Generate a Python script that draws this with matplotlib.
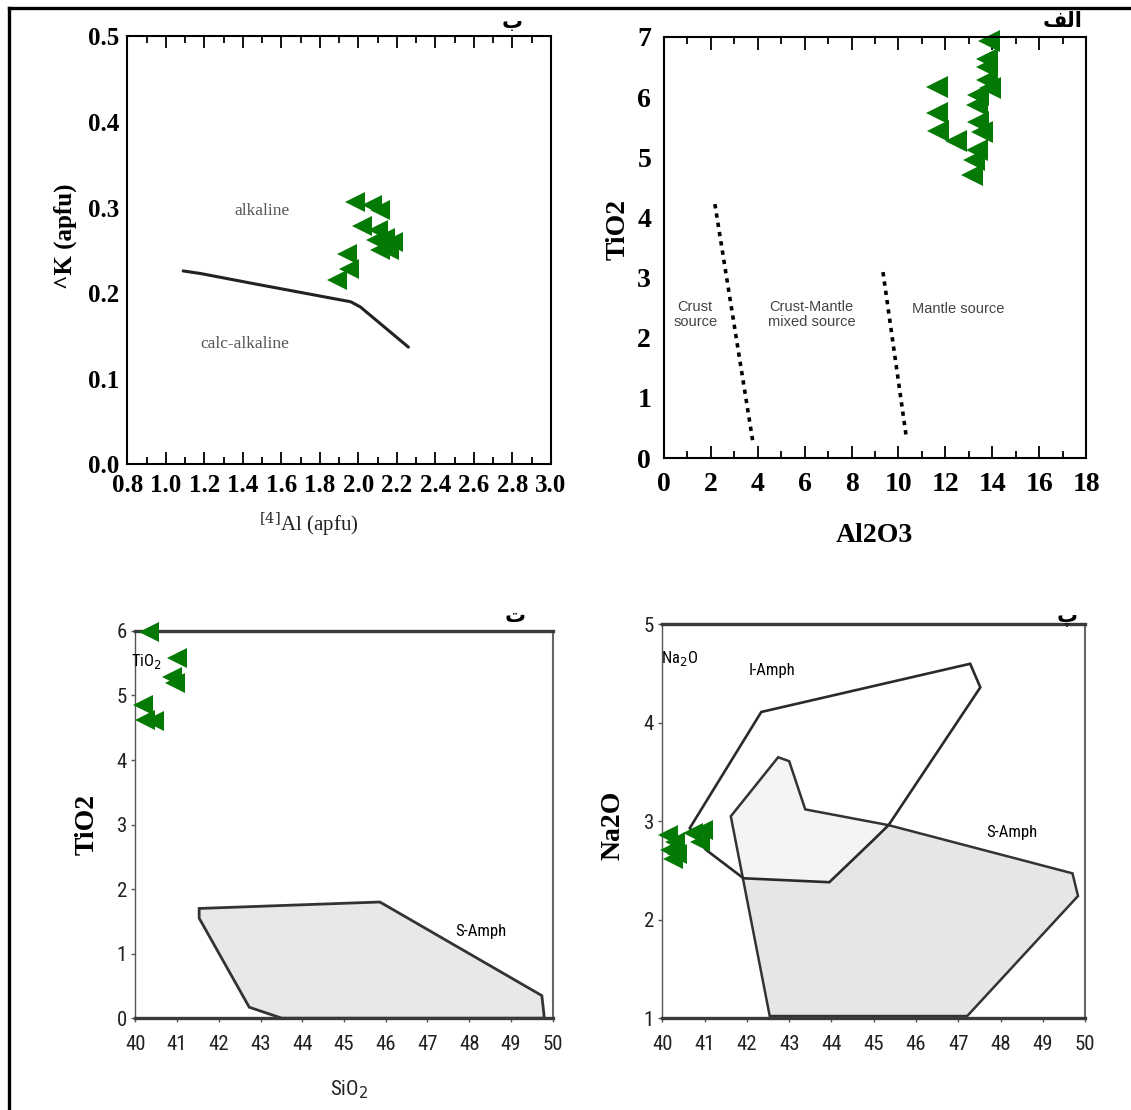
#Importing the necessary libraries
import numpy as np
import matplotlib
matplotlib.use("Agg")
import matplotlib.pyplot as plt
from matplotlib.patches import Polygon
from matplotlib.lines import Line2D

W, H = 1131, 1110
GREEN = "#047a04"
SERIF = "Liberation Serif"
NARROW = ["Roboto Condensed", "Liberation Sans", "DejaVu Sans"]

# ---- panel ب : [4]Al vs AK (apfu)
al4_apfu = [1.98, 2.07, 2.11, 2.02, 2.10, 2.09, 2.14, 2.18, 2.11, 2.16, 1.94, 1.95, 1.89]
ak_apfu = [0.306, 0.303, 0.297, 0.278, 0.274, 0.262, 0.264, 0.260, 0.250, 0.250, 0.246, 0.228, 0.216]
border_al4 = [1.09, 1.18, 1.46, 1.96, 2.01, 2.26]
border_ak = [0.226, 0.223, 0.211, 0.190, 0.184, 0.137]

# ---- panel الف : Al2O3 vs TiO2
al2o3 = [13.86, 13.78, 13.78, 13.75, 11.65, 13.40, 13.90, 13.33, 11.63, 13.40, 13.54, 11.70, 12.45, 13.33, 13.21, 13.12]
tio2_a = [6.93, 6.64, 6.50, 6.28, 6.17, 6.03, 6.15, 5.87, 5.73, 5.59, 5.42, 5.44, 5.27, 5.12, 4.95, 4.70]
crust_line_x = [2.18, 3.81]
crust_line_y = [4.22, 0.24]
mantle_line_x = [9.34, 10.34]
mantle_line_y = [3.09, 0.33]

# ---- panel ت : SiO2 vs TiO2
sio2_t = [40.33, 41.01, 40.87, 40.95, 40.19, 40.23, 40.45]
tio2_t = [5.99, 5.58, 5.29, 5.19, 4.85, 4.62, 4.60]
samph_t_x = [41.53, 45.86, 49.74, 49.80, 43.51, 42.73, 41.53]
samph_t_y = [1.70, 1.80, 0.35, 0.00, 0.00, 0.17, 1.55]

# ---- panel پ : SiO2 vs Na2O
sio2_p = [40.14, 40.30, 40.18, 40.34, 40.25, 40.73, 40.97, 40.89]
na2o_p = [2.86, 2.79, 2.71, 2.67, 2.62, 2.88, 2.91, 2.79]
iamph_x = [40.65, 42.34, 47.28, 47.52, 45.35, 44.97, 43.95, 41.92, 41.03]
iamph_y = [2.93, 4.11, 4.60, 4.36, 2.96, 2.80, 2.38, 2.42, 2.71]
samph_p_x = [41.62, 42.74, 43.00, 43.38, 45.35, 49.70, 49.83, 47.21, 42.54]
samph_p_y = [3.05, 3.65, 3.61, 3.12, 2.96, 2.47, 2.24, 1.02, 1.02]


def box(l, t, r, b):
    # pixel box -> figure fraction rect
    return [l / W, 1 - b / H, (r - l) / W, (b - t) / H]


def ftext(x, y, s, **kw):
    fig.text(x / W, 1 - y / H, s, ha="center", va="center", **kw)


fig = plt.figure(figsize=(W / 100, H / 100), dpi=100)

# ========== ب ==========
ax1 = fig.add_axes(box(127.3, 36.4, 550.9, 464.4))
ax1.plot(border_al4, border_ak, color="#222222", lw=2.2, solid_capstyle="round")
ax1.plot(al4_apfu, ak_apfu, "<", color=GREEN, ms=15, mew=0)
ax1.text(1.50, 0.296, "alkaline", fontfamily=SERIF, fontsize=12.5, color="#555555",
         ha="center", va="center")
ax1.text(1.41, 0.141, "calc-alkaline", fontfamily=SERIF, fontsize=12.5, color="#555555",
         ha="center", va="center")
ax1.set_xlim(0.8, 3.0)
ax1.set_ylim(0.0, 0.5)
ax1.set_xticks(np.arange(0.8, 3.01, 0.2))
ax1.set_xticks(np.arange(0.9, 3.0, 0.2), minor=True)
ax1.set_xticklabels(["%.1f" % v for v in np.arange(0.8, 3.01, 0.2)])
ax1.set_yticks(np.arange(0, 0.51, 0.1))
ax1.set_yticklabels(["%.1f" % v for v in np.arange(0, 0.51, 0.1)])
ax1.tick_params(axis="x", which="both", direction="in", top=True, width=1.3, pad=7)
ax1.tick_params(axis="x", which="major", length=8.5)
ax1.tick_params(axis="x", which="minor", length=5)
ax1.tick_params(axis="y", length=0, pad=6)
for lab in ax1.get_xticklabels() + ax1.get_yticklabels():
    lab.set_fontfamily(SERIF)
    lab.set_fontweight("bold")
    lab.set_fontsize(18)
for sp in ax1.spines.values():
    sp.set_linewidth(1.5)
ftext(65.5, 236, "^K (apfu)", rotation=90, fontfamily=SERIF, fontweight="bold", fontsize=18)
ftext(309, 525, "$^{[4]}$Al (apfu)", fontfamily=SERIF, fontsize=15, color="#222222",
      math_fontfamily="dejavuserif")
ftext(512, 22, "ب", fontfamily="DejaVu Sans", fontweight="bold", fontsize=15, zorder=10)

# ========== الف ==========
ax2 = fig.add_axes(box(663.7, 36.9, 1086.3, 458.0))
ax2.plot(crust_line_x, crust_line_y, color="black", lw=2.6, ls=(0, (1.2, 1.4)))
ax2.plot(mantle_line_x, mantle_line_y, color="black", lw=2.6, ls=(0, (1.2, 1.4)))
ax2.plot(al2o3, tio2_a, "<", color=GREEN, ms=16, mew=0, clip_on=False)
ax2.text(1.34, 2.38, "Crust\nsource", fontfamily="Liberation Sans", fontsize=10.5,
         color="#444444", ha="center", va="center", linespacing=1.1)
ax2.text(6.3, 2.38, "Crust-Mantle\nmixed source", fontfamily="Liberation Sans", fontsize=10.5,
         color="#444444", ha="center", va="center", linespacing=1.1)
ax2.text(12.55, 2.47, "Mantle source", fontfamily="Liberation Sans", fontsize=10.5,
         color="#444444", ha="center", va="center")
ax2.set_xlim(0, 18)
ax2.set_ylim(0, 7)
ax2.set_xticks(np.arange(0, 19, 2))
ax2.set_xticks(np.arange(1, 18, 2), minor=True)
ax2.set_yticks(np.arange(0, 8, 1))
ax2.tick_params(axis="x", which="both", direction="in", top=True, width=1.3, pad=10)
ax2.tick_params(axis="x", which="major", length=9)
ax2.tick_params(axis="x", which="minor", length=5)
ax2.tick_params(axis="y", length=0, pad=9)
for lab in ax2.get_xticklabels() + ax2.get_yticklabels():
    lab.set_fontfamily(SERIF)
    lab.set_fontweight("bold")
    lab.set_fontsize(20)
for sp in ax2.spines.values():
    sp.set_linewidth(1.5)
ftext(618, 229, "TiO2", rotation=90, fontfamily=SERIF, fontweight="bold", fontsize=20)
ftext(874, 535, "Al2O3", fontfamily=SERIF, fontweight="bold", fontsize=20)
ftext(1063, 21, "\uFED2\uFEDF\uFE8D", fontfamily="DejaVu Sans", fontweight="bold", fontsize=15)


def narrow_axes(ax):
    # the two lower diagrams: thick top/bottom frame, thin sides
    ax.spines["top"].set_linewidth(2.4)
    ax.spines["top"].set_color("#3a3a3a")
    ax.spines["bottom"].set_linewidth(2.4)
    ax.spines["bottom"].set_color("#3a3a3a")
    ax.spines["left"].set_linewidth(1.0)
    ax.spines["left"].set_color("#555555")
    ax.spines["right"].set_linewidth(1.5)
    ax.spines["right"].set_color("#666666")
    ax.tick_params(direction="out", length=3, width=1, color="#555555", pad=3)
    ax.tick_params(axis="x", pad=9)
    for lab in ax.get_xticklabels() + ax.get_yticklabels():
        lab.set_fontfamily(NARROW)
        lab.set_fontsize(15)
        lab.set_color("#222222")


# ========== ت ==========
ax3 = fig.add_axes(box(135.3, 630.9, 552.7, 1018.2))
ax3.add_patch(Polygon(np.column_stack([samph_t_x, samph_t_y]), closed=True,
                      facecolor="#e8e8e8", edgecolor="#333333", lw=2.0, clip_on=False))
ax3.plot(sio2_t, tio2_t, "<", color=GREEN, ms=15, mew=0, clip_on=False, zorder=5)
ax3.text(40.27, 5.52, "TiO$_2$", fontfamily=NARROW, fontsize=12, ha="center", va="center",
         math_fontfamily="dejavusans")
ax3.text(48.27, 1.35, "S-Amph", fontfamily=NARROW, fontsize=12, ha="center", va="center")
ax3.set_xlim(40, 50)
ax3.set_ylim(0, 6)
ax3.set_xticks(np.arange(40, 51, 1))
ax3.set_yticks(np.arange(0, 7, 1))
narrow_axes(ax3)
ftext(87, 824, "TiO2", rotation=90, fontfamily=SERIF, fontweight="bold", fontsize=20)
ftext(349, 1090, "SiO$_2$", fontfamily=NARROW, fontsize=15, color="#222222",
      math_fontfamily="dejavusans")
ftext(515, 616, "ت", fontfamily="DejaVu Sans", fontweight="bold", fontsize=15, zorder=10)

# ========== پ ==========
ax4 = fig.add_axes(box(662.3, 624.4, 1085.2, 1018.0))
# S-Amph field fill, lighter where it overlaps I-Amph, then the outlines on top
ax4.add_patch(Polygon(np.column_stack([samph_p_x, samph_p_y]), closed=True,
                      facecolor="#e6e6e6", edgecolor="none"))
ax4.add_patch(Polygon(np.column_stack([iamph_x, iamph_y]), closed=True,
                      facecolor="white", alpha=0.6, edgecolor="none"))
ax4.add_patch(Polygon(np.column_stack([samph_p_x, samph_p_y]), closed=True,
                      facecolor="none", edgecolor="#333333", lw=1.8))
ax4.add_patch(Polygon(np.column_stack([iamph_x, iamph_y]), closed=True,
                      facecolor="none", edgecolor="#2a2a2a", lw=1.9))
ax4.plot(sio2_p, na2o_p, "<", color=GREEN, ms=14, mew=0, clip_on=False, zorder=5)
ax4.text(40.4, 4.65, "Na$_2$O", fontfamily=NARROW, fontsize=12, ha="center", va="center",
         math_fontfamily="dejavusans")
ax4.text(42.6, 4.53, "I-Amph", fontfamily=NARROW, fontsize=12, ha="center", va="center")
ax4.text(48.27, 2.89, "S-Amph", fontfamily=NARROW, fontsize=12, ha="center", va="center")
ax4.set_xlim(40, 50)
ax4.set_ylim(1, 5)
ax4.set_xticks(np.arange(40, 51, 1))
ax4.set_yticks(np.arange(1, 6, 1))
narrow_axes(ax4)
ftext(613, 825, "Na2O", rotation=90, fontfamily=SERIF, fontweight="bold", fontsize=20)
ftext(1067, 617, "پ", fontfamily="DejaVu Sans", fontweight="bold", fontsize=15, zorder=10)

# outer frame (left and top edges only)
fig.add_artist(Line2D([9 / W, 9 / W], [0, 1 - 8 / H], color="black", lw=2.4))
fig.add_artist(Line2D([9 / W, 1], [1 - 8 / H, 1 - 8 / H], color="black", lw=2.4))

fig.savefig("out.png", dpi=100)
